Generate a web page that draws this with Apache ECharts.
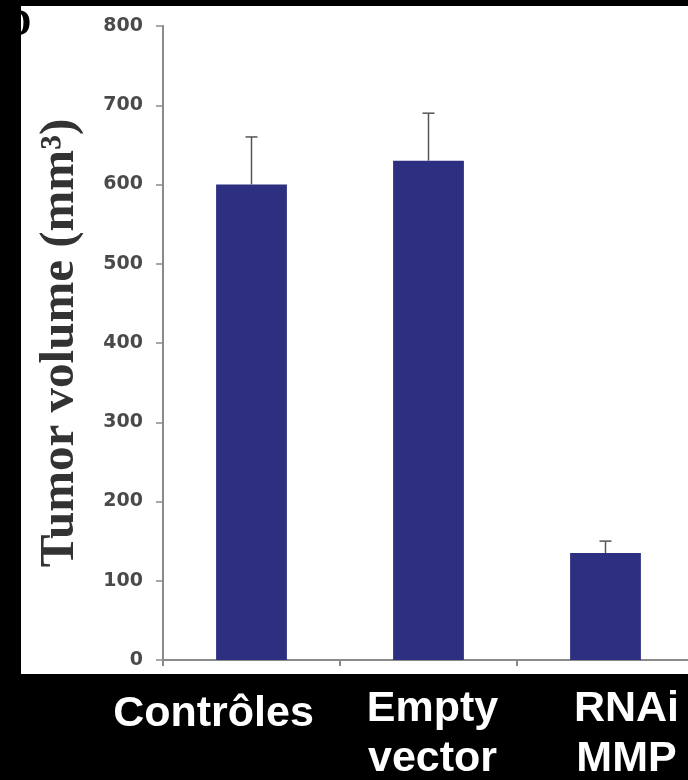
<!DOCTYPE html>
<html>
<head>
<meta charset="utf-8">
<script src="https://cdn.jsdelivr.net/npm/echarts@6/dist/echarts.min.js"></script>
<style>
  html, body { margin: 0; padding: 0; background: #000; }
  #chart { width: 688px; height: 780px; }
</style>
</head>
<body>
<div id="chart"></div>
<script>
// data
var categories = ["Contrôles", "Empty\nvector", "RNAi\nMMP"];
var tumorVolume = [600, 630, 135];
var errorUp = [60, 60, 15];
var yTicks = { min: 0, max: 800, step: 100 };

// the labels under the chart sit a bit off the bar centres
var labelShift = [-38, 4, 21];
var labelDrop = [10, 0, 0];

var chart = echarts.init(document.getElementById("chart"));

var rich = {};
labelShift.forEach(function (s, i) {
  rich["c" + i] = {
    fontFamily: "Liberation Sans",
    fontWeight: "bold",
    fontSize: 43,
    lineHeight: 50,
    color: "#fff",
    padding: s < 0 ? [labelDrop[i], -2 * s, 0, 0] : [labelDrop[i], 0, 0, 2 * s]
  };
});

chart.setOption({
  backgroundColor: "#000",
  animation: false,
  graphic: [
    {
      type: "rect",
      z: -10,
      shape: { x: 21, y: 6, width: 667, height: 668 },
      style: { fill: "#fff" }
    },
    {
      type: "text",
      z: -5,
      x: 4,
      y: 6,
      style: { text: "D", font: 'bold 38px "Liberation Serif"', fill: "#000" }
    }
  ],
  grid: { left: 163, top: 26, width: 531, bottom: 120, outerBoundsMode: "none" },
  xAxis: {
    type: "category",
    data: categories,
    axisLine: { lineStyle: { color: "#8a8a8a", width: 2 } },
    axisTick: { show: true, length: 6, lineStyle: { color: "#8a8a8a", width: 2 } },
    axisLabel: {
      margin: 24,
      interval: 0,
      formatter: function (val, idx) {
        return val.split("\n").map(function (l) { return "{c" + idx + "|" + l + "}"; }).join("\n");
      },
      rich: rich
    }
  },
  yAxis: {
    type: "value",
    min: yTicks.min,
    max: yTicks.max,
    interval: yTicks.step,
    name: "Tumor volume (mm³)",
    nameLocation: "middle",
    nameGap: 78,
    nameTextStyle: {
      fontFamily: "Liberation Serif",
      fontWeight: "bold",
      fontSize: 49,
      color: "#333"
    },
    splitLine: { show: false },
    axisLine: { show: true, lineStyle: { color: "#8a8a8a", width: 2 } },
    axisTick: { show: true, length: 7, lineStyle: { color: "#8a8a8a", width: 1.5 } },
    axisLabel: {
      margin: 20,
      fontFamily: "DejaVu Sans",
      fontWeight: "bold",
      fontSize: 19,
      color: "#4a4a4a"
    }
  },
  series: [
    {
      type: "bar",
      data: tumorVolume,
      barWidth: "40%",
      itemStyle: { color: "#2d2f80" }
    },
    {
      type: "custom",
      z: 3,
      data: categories.map(function (c, i) { return [i, tumorVolume[i], errorUp[i]]; }),
      renderItem: function (params, api) {
        var p0 = api.coord([api.value(0), api.value(1)]);
        var p1 = api.coord([api.value(0), api.value(1) + api.value(2)]);
        var st = { stroke: "#555", lineWidth: 1.5 };
        return {
          type: "group",
          children: [
            { type: "line", shape: { x1: p0[0], y1: p0[1], x2: p1[0], y2: p1[1] }, style: st },
            { type: "line", shape: { x1: p1[0] - 6, y1: p1[1], x2: p1[0] + 6, y2: p1[1] }, style: st }
          ]
        };
      }
    }
  ]
});
</script>
</body>
</html>
